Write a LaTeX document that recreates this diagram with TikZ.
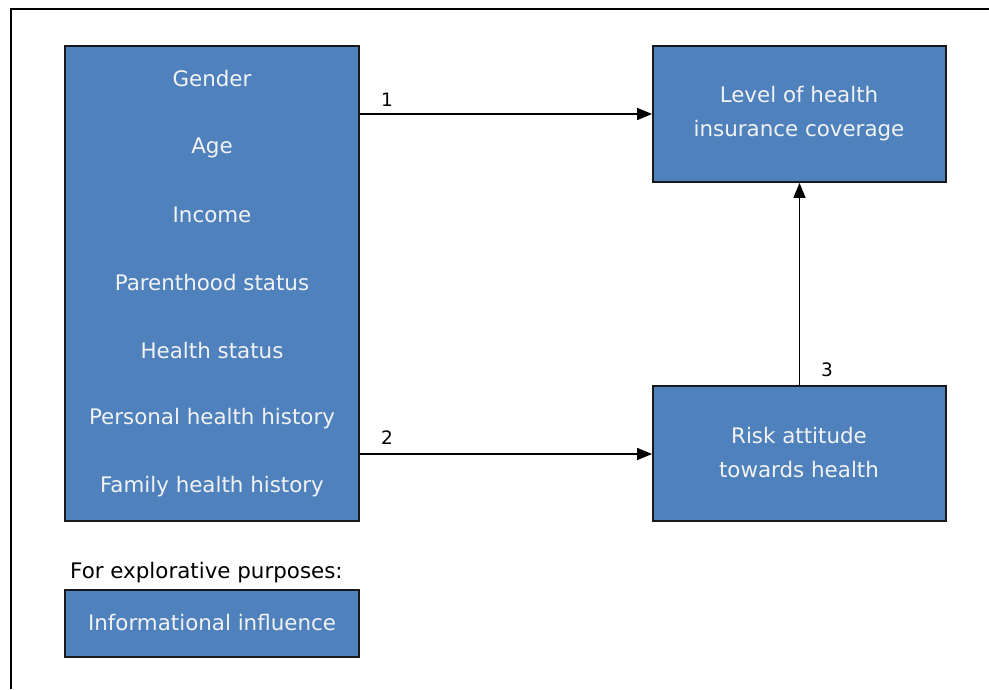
\documentclass[tikz,border=0pt]{standalone}
\usepackage{fontspec}
\setmainfont{DejaVu Sans}
\usetikzlibrary{arrows.meta}
\definecolor{boxblue}{HTML}{4F81BD}
\definecolor{txtwhite}{HTML}{F2F2F2}
\tikzset{
  box/.style={draw=black!90, line width=1.8pt, fill=boxblue, inner sep=0pt},
  lbl/.style={text=txtwhite, font=\fontsize{21.4}{34}\selectfont, inner sep=0pt, align=center},
  num/.style={text=black, font=\fontsize{18.5}{20}\selectfont, inner sep=0pt},
  conn/.style={line width=1.5pt, -{Triangle[length=15pt,width=12pt]}},
}
\begin{document}
\begin{tikzpicture}[x=1pt,y=-1pt]
\useasboundingbox (0,0) rectangle (989,689);
% frame
\draw[line width=1.8pt] (11,689) -- (11,9) -- (989,9);
% boxes
\node[box, minimum width=294pt, minimum height=475pt] (left) at (212,283.5) {};
\node[box, minimum width=293pt, minimum height=136pt] (cov) at (799.5,114) {};
\node[box, minimum width=293pt, minimum height=135pt] (risk) at (799.5,453.5) {};
\node[box, minimum width=294pt, minimum height=67pt] (info) at (212,623.5) {};
% left box texts
\node[lbl] (t1) at (212,79) {Gender};
\node[lbl] (t2) at (212,148) {Age};
\node[lbl] (t3) at (212,215) {Income};
\node[lbl] (t4) at (212,283) {Parenthood status};
\node[lbl] (t5) at (212,351) {Health status};
\node[lbl] (t6) at (212,419) {Personal health history};
\node[lbl] (t7) at (212,487) {Family health history};
% right texts
\node[lbl] (c1) at (799,114) {Level of health\\insurance coverage};
\node[lbl] (r1) at (799,453) {Risk attitude\\towards health};
\node[lbl] (i1) at (212,623) {Informational influence};
\node[text=black, font=\fontsize{21.4}{22}\selectfont, inner sep=0pt, anchor=west] (expl) at (70,573) {For explorative purposes:};
% connectors
\coordinate (a1s) at (left.east |- 0,114);
\coordinate (a2s) at (left.east |- 0,454);
\draw[conn] (a1s) -- (cov.west |- a1s);
\draw[conn] (a2s) -- (risk.west |- a2s);
\draw[conn] (risk.north) -- (cov.south);
\node[num] (n1) at (387,100) {1};
\node[num] (n2) at (387,438) {2};
\node[num] (n3) at (827,370) {3};
\end{tikzpicture}
\end{document}
